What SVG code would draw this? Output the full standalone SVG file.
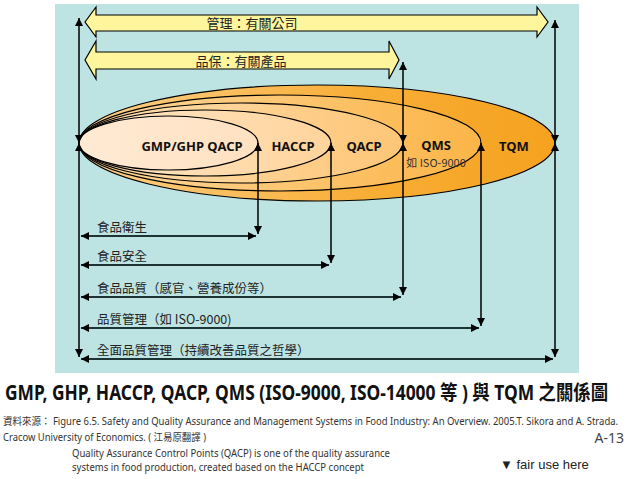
<svg xmlns="http://www.w3.org/2000/svg" width="638" height="479" viewBox="0 0 638 479">
<style>
.band{fill:#FFF59C;stroke:#000;stroke-width:1.2;}
.bandtxt{font-family:"Noto Sans CJK TC","Noto Sans",sans-serif;font-size:13px;fill:#222;text-anchor:middle;}
.ell{stroke:#000;stroke-width:1.2;}
.elab{font-family:"Noto Sans","Noto Sans CJK TC",sans-serif;font-size:13px;font-weight:bold;fill:#111;text-anchor:middle;}
.v{stroke:#000;stroke-width:1.5;fill:none;marker-start:url(#ah);marker-end:url(#ah);}
.h{stroke:#1e3333;stroke-width:2;fill:none;marker-start:url(#ah);marker-end:url(#ah);}
.hl{font-family:"Noto Sans CJK TC","Noto Sans",sans-serif;font-size:12.5px;fill:#222;}
.note{font-family:"Noto Sans","Noto Sans CJK TC",sans-serif;font-size:10px;fill:#333;}
</style>
<defs>
<marker id="ah" viewBox="0 0 10 10" refX="10" refY="5" markerWidth="8" markerHeight="8" markerUnits="userSpaceOnUse" orient="auto-start-reverse">
<path d="M0,0 L10,5 L0,10 z" fill="#000"/>
</marker>
<linearGradient id="gT" x1="0" x2="1" y1="0" y2="0"><stop offset="0" stop-color="#FDD08A"/><stop offset="0.6" stop-color="#F8AE36"/><stop offset="1" stop-color="#F5A21F"/></linearGradient>
<linearGradient id="gQ" x1="0" x2="1" y1="0" y2="0"><stop offset="0" stop-color="#FED79C"/><stop offset="1" stop-color="#FBB548"/></linearGradient>
<linearGradient id="gA" x1="0" x2="1" y1="0" y2="0"><stop offset="0" stop-color="#FFDFB0"/><stop offset="1" stop-color="#FDC677"/></linearGradient>
<linearGradient id="gH" x1="0" x2="1" y1="0" y2="0"><stop offset="0" stop-color="#FFE6C6"/><stop offset="1" stop-color="#FFD49C"/></linearGradient>
<linearGradient id="gG" x1="0" x2="1" y1="0" y2="0"><stop offset="0" stop-color="#FFEAD4"/><stop offset="1" stop-color="#FFE1C0"/></linearGradient>
</defs>

<rect x="55" y="4" width="524" height="369" fill="#BEE3E3"/>

<g id="band-management">
<polygon class="band" points="85,22 96,7 96,15 537,15 537,7 548,22 537,37 537,31 96,31 96,37"/>
<text class="bandtxt" x="252" y="27.5">管理：有關公司</text>
</g>
<g id="band-qa">
<polygon class="band" points="85,60 96,41 96,52 389,52 389,41 399,60 389,79 389,69 96,69 96,79"/>
<text class="bandtxt" x="241" y="66">品保：有關產品</text>
</g>

<g id="ellipse-tqm">
<ellipse class="ell" cx="317" cy="143" rx="238" ry="58" fill="url(#gT)"/>
<text class="elab" x="514" y="151">TQM</text>
</g>
<g id="ellipse-qms">
<ellipse class="ell" cx="280" cy="143" rx="201" ry="48" fill="url(#gQ)"/>
<text class="elab" x="436" y="150">QMS</text>
<text x="436" y="167" style="font-family:'Noto Sans CJK TC','Noto Sans',sans-serif;font-size:11px;fill:#333;text-anchor:middle">如 ISO-9000</text>
</g>
<g id="ellipse-qacp">
<ellipse class="ell" cx="241" cy="143" rx="162" ry="40" fill="url(#gA)"/>
<text class="elab" x="364" y="151">QACP</text>
</g>
<g id="ellipse-haccp">
<ellipse class="ell" cx="205" cy="143" rx="126" ry="33" fill="url(#gH)"/>
<text class="elab" x="293" y="151">HACCP</text>
</g>
<g id="ellipse-gmp">
<ellipse class="ell" cx="168.5" cy="143" rx="89.5" ry="27" fill="url(#gG)"/>
<text class="elab" x="192" y="151">GMP/GHP  QACP</text>
</g>

<g id="connectors">
<line class="v" x1="79" y1="18" x2="79" y2="143"/>
<line class="v" x1="79" y1="143" x2="79" y2="357"/>
<line class="v" x1="258" y1="143" x2="258" y2="234"/>
<line class="v" x1="331" y1="143" x2="331" y2="263"/>
<line class="v" x1="403" y1="62" x2="403" y2="143"/>
<line class="v" x1="403" y1="143" x2="403" y2="295"/>
<line class="v" x1="481" y1="143" x2="481" y2="326"/>
<line class="v" x1="555" y1="20" x2="555" y2="143"/>
<line class="v" x1="555" y1="143" x2="555" y2="357"/>
<line class="h" x1="81" y1="236" x2="256" y2="236"/>
<line class="h" x1="81" y1="265" x2="329" y2="265"/>
<line class="h" x1="81" y1="297" x2="401" y2="297"/>
<line class="h" x1="81" y1="328" x2="479" y2="328"/>
<line class="h" x1="81" y1="359" x2="553" y2="359"/>
</g>

<g id="scope-labels">
<text class="hl" x="97" y="232">食品衛生</text>
<text class="hl" x="97" y="261">食品安全</text>
<text class="hl" x="97" y="293">食品品質（感官、營養成份等）</text>
<text class="hl" x="97" y="324">品質管理（如 ISO-9000)</text>
<text class="hl" x="97" y="355">全面品質管理（持續改善品質之哲學）</text>
</g>

<g id="captions">
<text transform="translate(5,400) scale(0.74,1)" x="0" y="0" textLength="815" lengthAdjust="spacingAndGlyphs" style="font-family:'Noto Sans','Noto Sans CJK TC',sans-serif;font-size:20.5px;font-weight:bold;fill:#111">GMP, GHP, HACCP, QACP, QMS (ISO-9000, ISO-14000 等 ) 與 TQM 之關係圖</text>
<text class="note" transform="translate(3,425) scale(0.88,1)" x="0" y="0" textLength="699" lengthAdjust="spacingAndGlyphs">資料來源： Figure 6.5. Safety and Quality Assurance and Management Systems in Food Industry: An Overview. 2005.T. Sikora and A. Strada.</text>
<text class="note" x="3" y="441" textLength="203" lengthAdjust="spacingAndGlyphs">Cracow University of Economics. ( 江易原翻譯 )</text>
<text x="624" y="443" style="font-family:'Noto Sans',sans-serif;font-size:14px;fill:#444;text-anchor:end">A-13</text>
<text class="note" x="72" y="457" textLength="318" lengthAdjust="spacingAndGlyphs">Quality Assurance Control Points (QACP) is one of the quality assurance</text>
<text class="note" x="72" y="471" textLength="292" lengthAdjust="spacingAndGlyphs">systems in food production, created based on the HACCP concept</text>
<text x="500" y="469" style="font-family:'Liberation Sans',sans-serif;font-size:13px;fill:#222">▼ fair use here</text>
</g>
</svg>
